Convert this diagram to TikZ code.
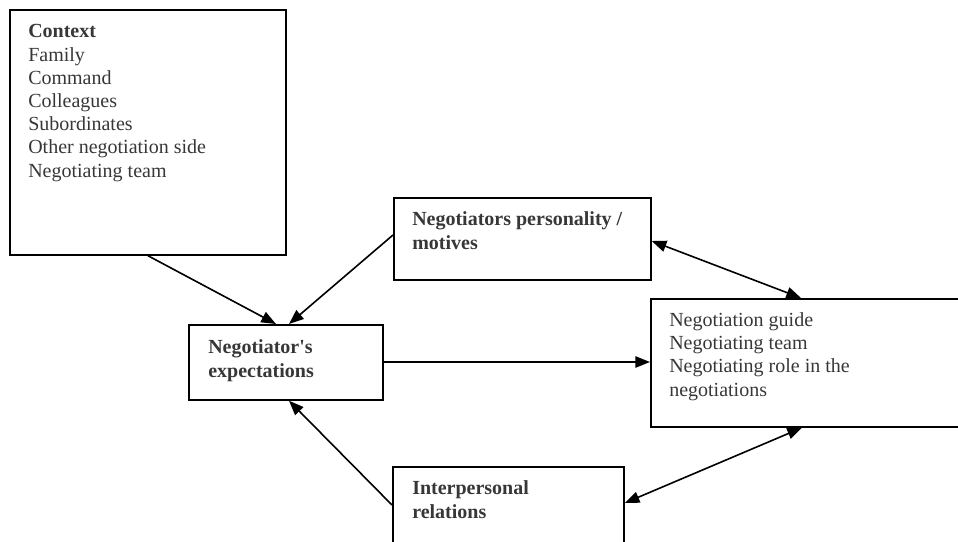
\documentclass[tikz,border=0pt]{standalone}
\usepackage{fontspec}
\setmainfont{Liberation Serif}[Ligatures=TeXOff]
\usetikzlibrary{arrows.meta}
\definecolor{txtgray}{RGB}{55,55,55}
\tikzset{
  box/.style={draw=black, line width=1.3pt, rectangle, inner sep=0pt, anchor=north west},
  lbl/.style={anchor=base west, inner sep=0pt, align=left, text=txtgray,
              font=\fontsize{15pt}{17.4pt}\selectfont},
  blbl/.style={lbl, font=\fontsize{15pt}{17.8pt}\selectfont\bfseries},
  conn/.style={line width=1.2pt, -{Triangle[length=11pt,width=8.5pt]}},
  dconn/.style={line width=1.2pt, {Triangle[length=11pt,width=8.5pt]}-{Triangle[length=11pt,width=8.5pt]}}
}
\begin{document}
\begin{tikzpicture}[x=0.75pt, y=-0.75pt]
\useasboundingbox (0,0) rectangle (958,542);
\clip (0,0) rectangle (958,542);
% boxes
\node[box, minimum width=207pt, minimum height=183.75pt] (ctx) at (9,9) {};
\node[box, minimum width=192.75pt, minimum height=61.5pt] (pers) at (393,197) {};
\node[box, minimum width=145.5pt, minimum height=56.25pt] (exp) at (188,324) {};
\node[box, minimum width=243.75pt, minimum height=96pt] (res) at (650,298) {};
\node[box, minimum width=173.25pt, minimum height=70.5pt] (inter) at (392,466) {};
% texts (anchored at the baseline of their last line)
\node[lbl] (ctxt) at (28,177) {\textbf{Context}\\Family\\Command\\Colleagues\\Subordinates\\Other negotiation side\\Negotiating team};
\node[blbl] (perst) at (412,249) {Negotiators personality /\\motives};
\node[blbl] (expt) at (208,377) {Negotiator's\\expectations};
\node[lbl] (rest) at (669,396) {Negotiation guide\\Negotiating team\\Negotiating role in the\\negotiations};
\node[blbl] (intert) at (412,518) {Interpersonal\\relations};
% connectors
\draw[conn] (ctx.south -| 148,0) -- (exp.north -| 276,0);
\draw[conn] (pers.west |- 0,235) -- (exp.north -| 289,0);
\draw[conn] (exp.east |- 0,362) -- (res.west |- 0,362);
\draw[dconn] (pers.east |- 0,241) -- (res.north -| 801,0);
\draw[conn] (inter.west |- 0,505) -- (exp.south -| 289,0);
\draw[dconn] (inter.east |- 0,503) -- (res.south -| 802,0);
\end{tikzpicture}
\end{document}
